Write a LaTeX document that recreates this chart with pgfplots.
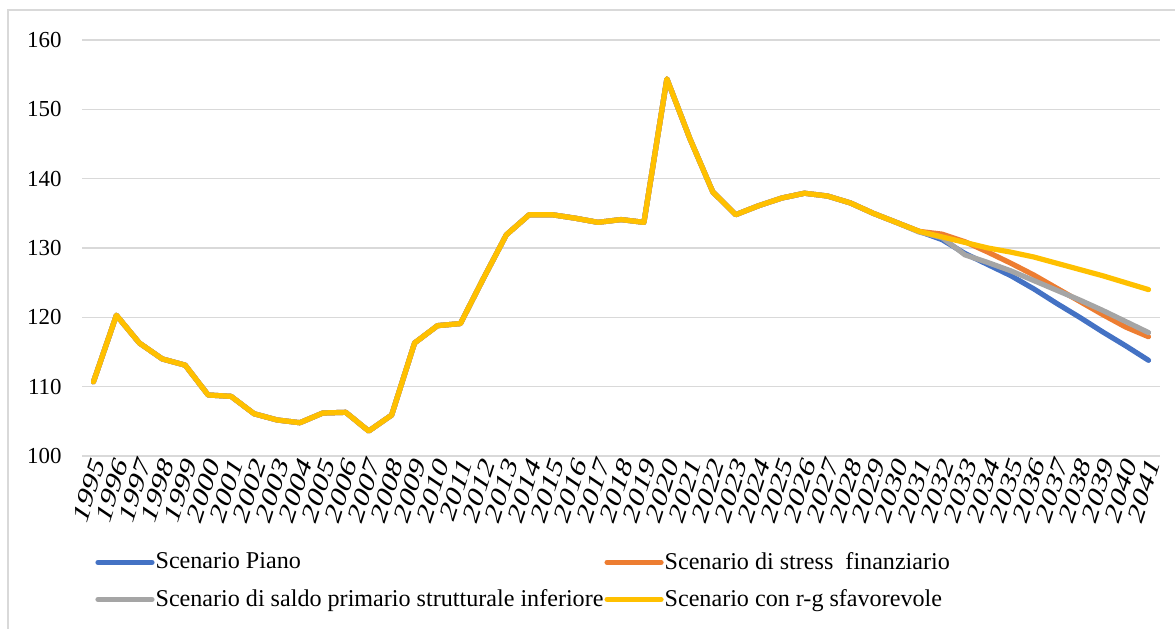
\documentclass[border=0pt]{standalone}
\usepackage{fontspec}
\setmainfont{Liberation Serif}
\usepackage{pgfplots}
\pgfplotsset{compat=1.18}
\usetikzlibrary{calc}

\definecolor{cPiano}{HTML}{4472C4}
\definecolor{cStress}{HTML}{ED7D31}
\definecolor{cSaldo}{HTML}{A5A5A5}
\definecolor{cRg}{HTML}{FFC000}
\definecolor{cGrid}{HTML}{D9D9D9}

\newcommand{\fnt}{\fontsize{11.5}{13}\selectfont}
\newcommand{\lfnt}{\fontsize{12.1}{13.5}\selectfont}

% common path 1995-2031, then the four scenarios
\pgfplotstableread{
year piano stress saldo rg
1995 110.7 110.7 110.7 110.7
1996 120.3 120.3 120.3 120.3
1997 116.3 116.3 116.3 116.3
1998 114.0 114.0 114.0 114.0
1999 113.1 113.1 113.1 113.1
2000 108.8 108.8 108.8 108.8
2001 108.6 108.6 108.6 108.6
2002 106.1 106.1 106.1 106.1
2003 105.2 105.2 105.2 105.2
2004 104.8 104.8 104.8 104.8
2005 106.2 106.2 106.2 106.2
2006 106.3 106.3 106.3 106.3
2007 103.6 103.6 103.6 103.6
2008 105.9 105.9 105.9 105.9
2009 116.3 116.3 116.3 116.3
2010 118.8 118.8 118.8 118.8
2011 119.1 119.1 119.1 119.1
2012 125.6 125.6 125.6 125.6
2013 131.9 131.9 131.9 131.9
2014 134.8 134.8 134.8 134.8
2015 134.8 134.8 134.8 134.8
2016 134.3 134.3 134.3 134.3
2017 133.7 133.7 133.7 133.7
2018 134.1 134.1 134.1 134.1
2019 133.7 133.7 133.7 133.7
2020 154.4 154.4 154.4 154.4
2021 145.8 145.8 145.8 145.8
2022 138.1 138.1 138.1 138.1
2023 134.8 134.8 134.8 134.8
2024 136.1 136.1 136.1 136.1
2025 137.2 137.2 137.2 137.2
2026 137.9 137.9 137.9 137.9
2027 137.5 137.5 137.5 137.5
2028 136.5 136.5 136.5 136.5
2029 135.0 135.0 135.0 135.0
2030 133.7 133.7 133.7 133.7
2031 132.4 132.4 132.3 132.4
2032 131.2 132.0 131.5 131.6
2033 129.2 130.9 129.0 130.8
2034 127.6 129.4 127.9 130.0
2035 126.0 127.8 126.7 129.4
2036 124.1 126.1 125.3 128.7
2037 122.0 124.2 123.9 127.8
2038 120.0 122.3 122.5 126.9
2039 117.9 120.4 121.0 126.0
2040 115.9 118.6 119.4 125.0
2041 113.8 117.2 117.8 124.0
}\debt

\begin{document}
\begin{tikzpicture}
\begin{axis}[
  scale only axis,
  width=539bp, height=208bp,
  xmin=1994.5, xmax=2041.5,
  ymin=100, ymax=160,
  xtick={1995,...,2041}, ytick={100,110,...,160},
  axis line style={draw=none},
  major tick length=0pt,
  ymajorgrids, grid style={cGrid, line width=0.8bp},
  /pgf/number format/assume math mode=true,
  /pgf/number format/1000 sep={},
  tick label style={font=\fnt, inner sep=0pt},
  yticklabel style={anchor=east, xshift=-10bp},
  xticklabel style={yscale=1.45, rotate=65, anchor=east, yshift=-3bp},
  every axis plot/.append style={line width=2.6bp, line join=round, line cap=round},
  legend columns=2,
  legend cell align=left,
  legend style={draw=none, fill=none, font=\lfnt, inner sep=0pt,
    at={($(rel axis cs:0,0)+(6.5bp,-47.5bp)$)}, anchor=north west,
    /tikz/row sep=7.5bp,
    /tikz/every even column/.append style={column sep=0bp},
    nodes={inner sep=0.5bp, outer ysep=1bp}},
  legend image code/.code={\draw[#1, line cap=round] (0bp,0bp) -- (27bp,0bp);},
]
\addplot[cPiano] table[x=year, y=piano] {\debt};
\addlegendentry{Scenario Piano}
\addplot[cStress] table[x=year, y=stress] {\debt};
\addlegendentry{Scenario di stress\ \ finanziario}
\addplot[cSaldo] table[x=year, y=saldo] {\debt};
\addlegendentry{Scenario di saldo primario strutturale inferiore}
\addplot[cRg] table[x=year, y=rg] {\debt};
\addlegendentry{Scenario con r-g sfavorevole}
\end{axis}
\pgfresetboundingbox
\useasboundingbox ($(current axis.south west)+(-41bp,-86.5bp)$) rectangle ($(current axis.north east)+(7.5bp,20bp)$);
\draw[cGrid, line width=0.8bp] ($(current axis.south west)+(-37bp,-86.5bp)$) -- ($(current axis.north west)+(-37bp,15bp)$) -- ($(current axis.north east)+(7.5bp,15bp)$);
\end{tikzpicture}
\end{document}
